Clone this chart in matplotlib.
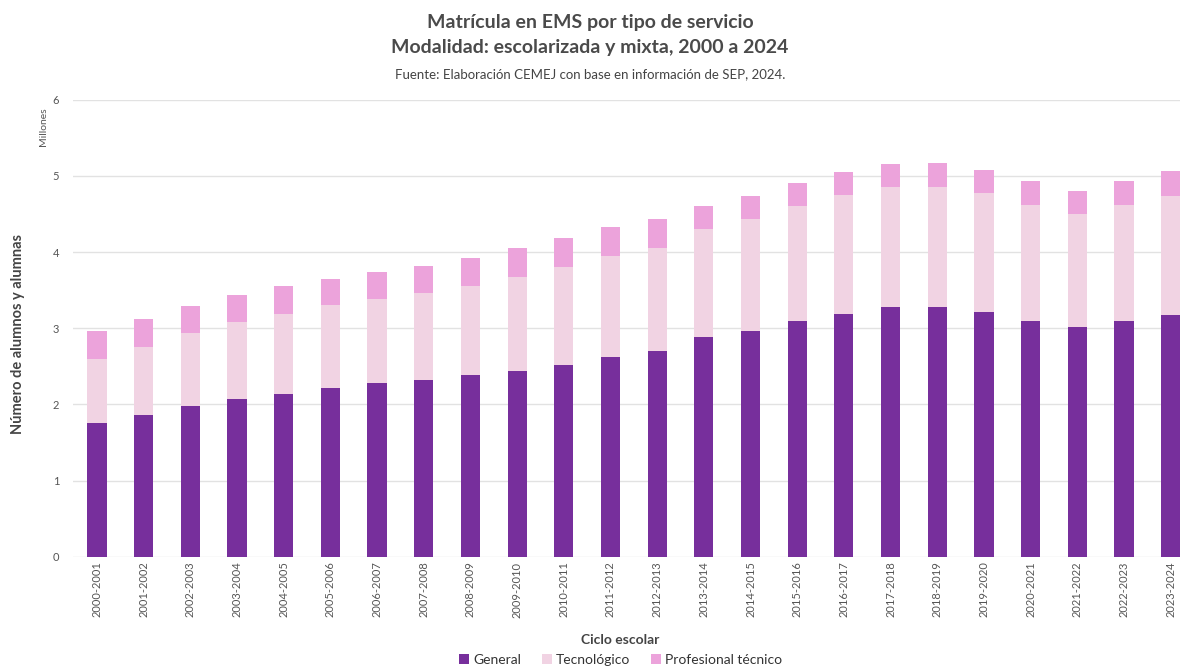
import matplotlib
matplotlib.use("Agg")
import matplotlib.pyplot as plt
import numpy as np

# Ciclos escolares
ciclos = [
    "2000-2001", "2001-2002", "2002-2003", "2003-2004", "2004-2005", "2005-2006",
    "2006-2007", "2007-2008", "2008-2009", "2009-2010", "2010-2011", "2011-2012",
    "2012-2013", "2013-2014", "2014-2015", "2015-2016", "2016-2017", "2017-2018",
    "2018-2019", "2019-2020", "2020-2021", "2021-2022", "2022-2023", "2023-2024",
]

# Millones de alumnos
general = [1.75, 1.86, 1.98, 2.07, 2.14, 2.21, 2.28, 2.32, 2.38, 2.44, 2.52, 2.62,
           2.70, 2.89, 2.97, 3.09, 3.19, 3.28, 3.28, 3.21, 3.09, 3.01, 3.10, 3.18]
tecnologico = [0.84, 0.90, 0.96, 1.01, 1.05, 1.09, 1.11, 1.14, 1.17, 1.23, 1.29, 1.33,
               1.35, 1.41, 1.47, 1.52, 1.56, 1.57, 1.58, 1.57, 1.53, 1.49, 1.52, 1.55]
profesional = [0.37, 0.36, 0.35, 0.36, 0.36, 0.35, 0.35, 0.36, 0.37, 0.38, 0.37, 0.38,
               0.39, 0.30, 0.29, 0.30, 0.30, 0.31, 0.31, 0.30, 0.31, 0.30, 0.32, 0.33]

c_general = "#772f9c"
c_tec = "#f1d3e3"
c_prof = "#eca3db"
txt = "#555555"

plt.rcParams["font.family"] = ["Lato", "DejaVu Sans"]

fig = plt.figure(figsize=(11.8, 6.67), dpi=100)
ax = fig.add_axes([0.062, 0.1654, 0.938, 0.685])

x = np.arange(len(ciclos))
w = 0.41
g = np.array(general)
t = np.array(tecnologico)
p = np.array(profesional)
ax.bar(x, g, w, color=c_general, label="General", zorder=3)
ax.bar(x, t, w, bottom=g, color=c_tec, label="Tecnológico", zorder=3)
ax.bar(x, p, w, bottom=g + t, color=c_prof, label="Profesional técnico", zorder=3)

ax.set_xlim(-0.51, 23.2)
ax.set_ylim(0, 6)
ax.set_yticks(range(7))
ax.yaxis.grid(True, color="#e2e2e2", linewidth=1, zorder=0)
for s in ax.spines.values():
    s.set_visible(False)
ax.tick_params(axis="both", length=0, colors=txt, labelsize=8)
ax.tick_params(axis="y", pad=10)
ax.set_xticks(x)
ax.set_xticklabels(ciclos, rotation=90)

fig.text(0.037, 0.81, "Millones", rotation=90, ha="center", va="center",
         fontsize=7.5, color=txt)
fig.text(0.015, 0.5, "Número de alumnos y alumnas", rotation=90, ha="center",
         va="center", fontsize=10.5, color="#444444", fontweight="bold")
fig.text(0.526, 0.041, "Ciclo escolar", ha="center", va="center", fontsize=10,
         color="#444444", fontweight="bold")

fig.text(0.5, 0.967, "Matrícula en EMS por tipo de servicio", ha="center",
         va="center", fontsize=14, color="#4a4a4a", fontweight="bold")
fig.text(0.5, 0.929, "Modalidad: escolarizada y mixta, 2000 a 2024", ha="center",
         va="center", fontsize=14, color="#4a4a4a", fontweight="bold")
fig.text(0.5, 0.889, "Fuente: Elaboración CEMEJ con base en información de SEP, 2024.",
         ha="center", va="center", fontsize=9.5, color="#444444")

fig.legend(loc="center", bbox_to_anchor=(0.526, 0.011), ncol=3, frameon=False,
           fontsize=10, handlelength=0.7, handleheight=0.7, handletextpad=0.3,
           columnspacing=1.5, labelcolor="#333333")

fig.savefig("out.png", dpi=100)
